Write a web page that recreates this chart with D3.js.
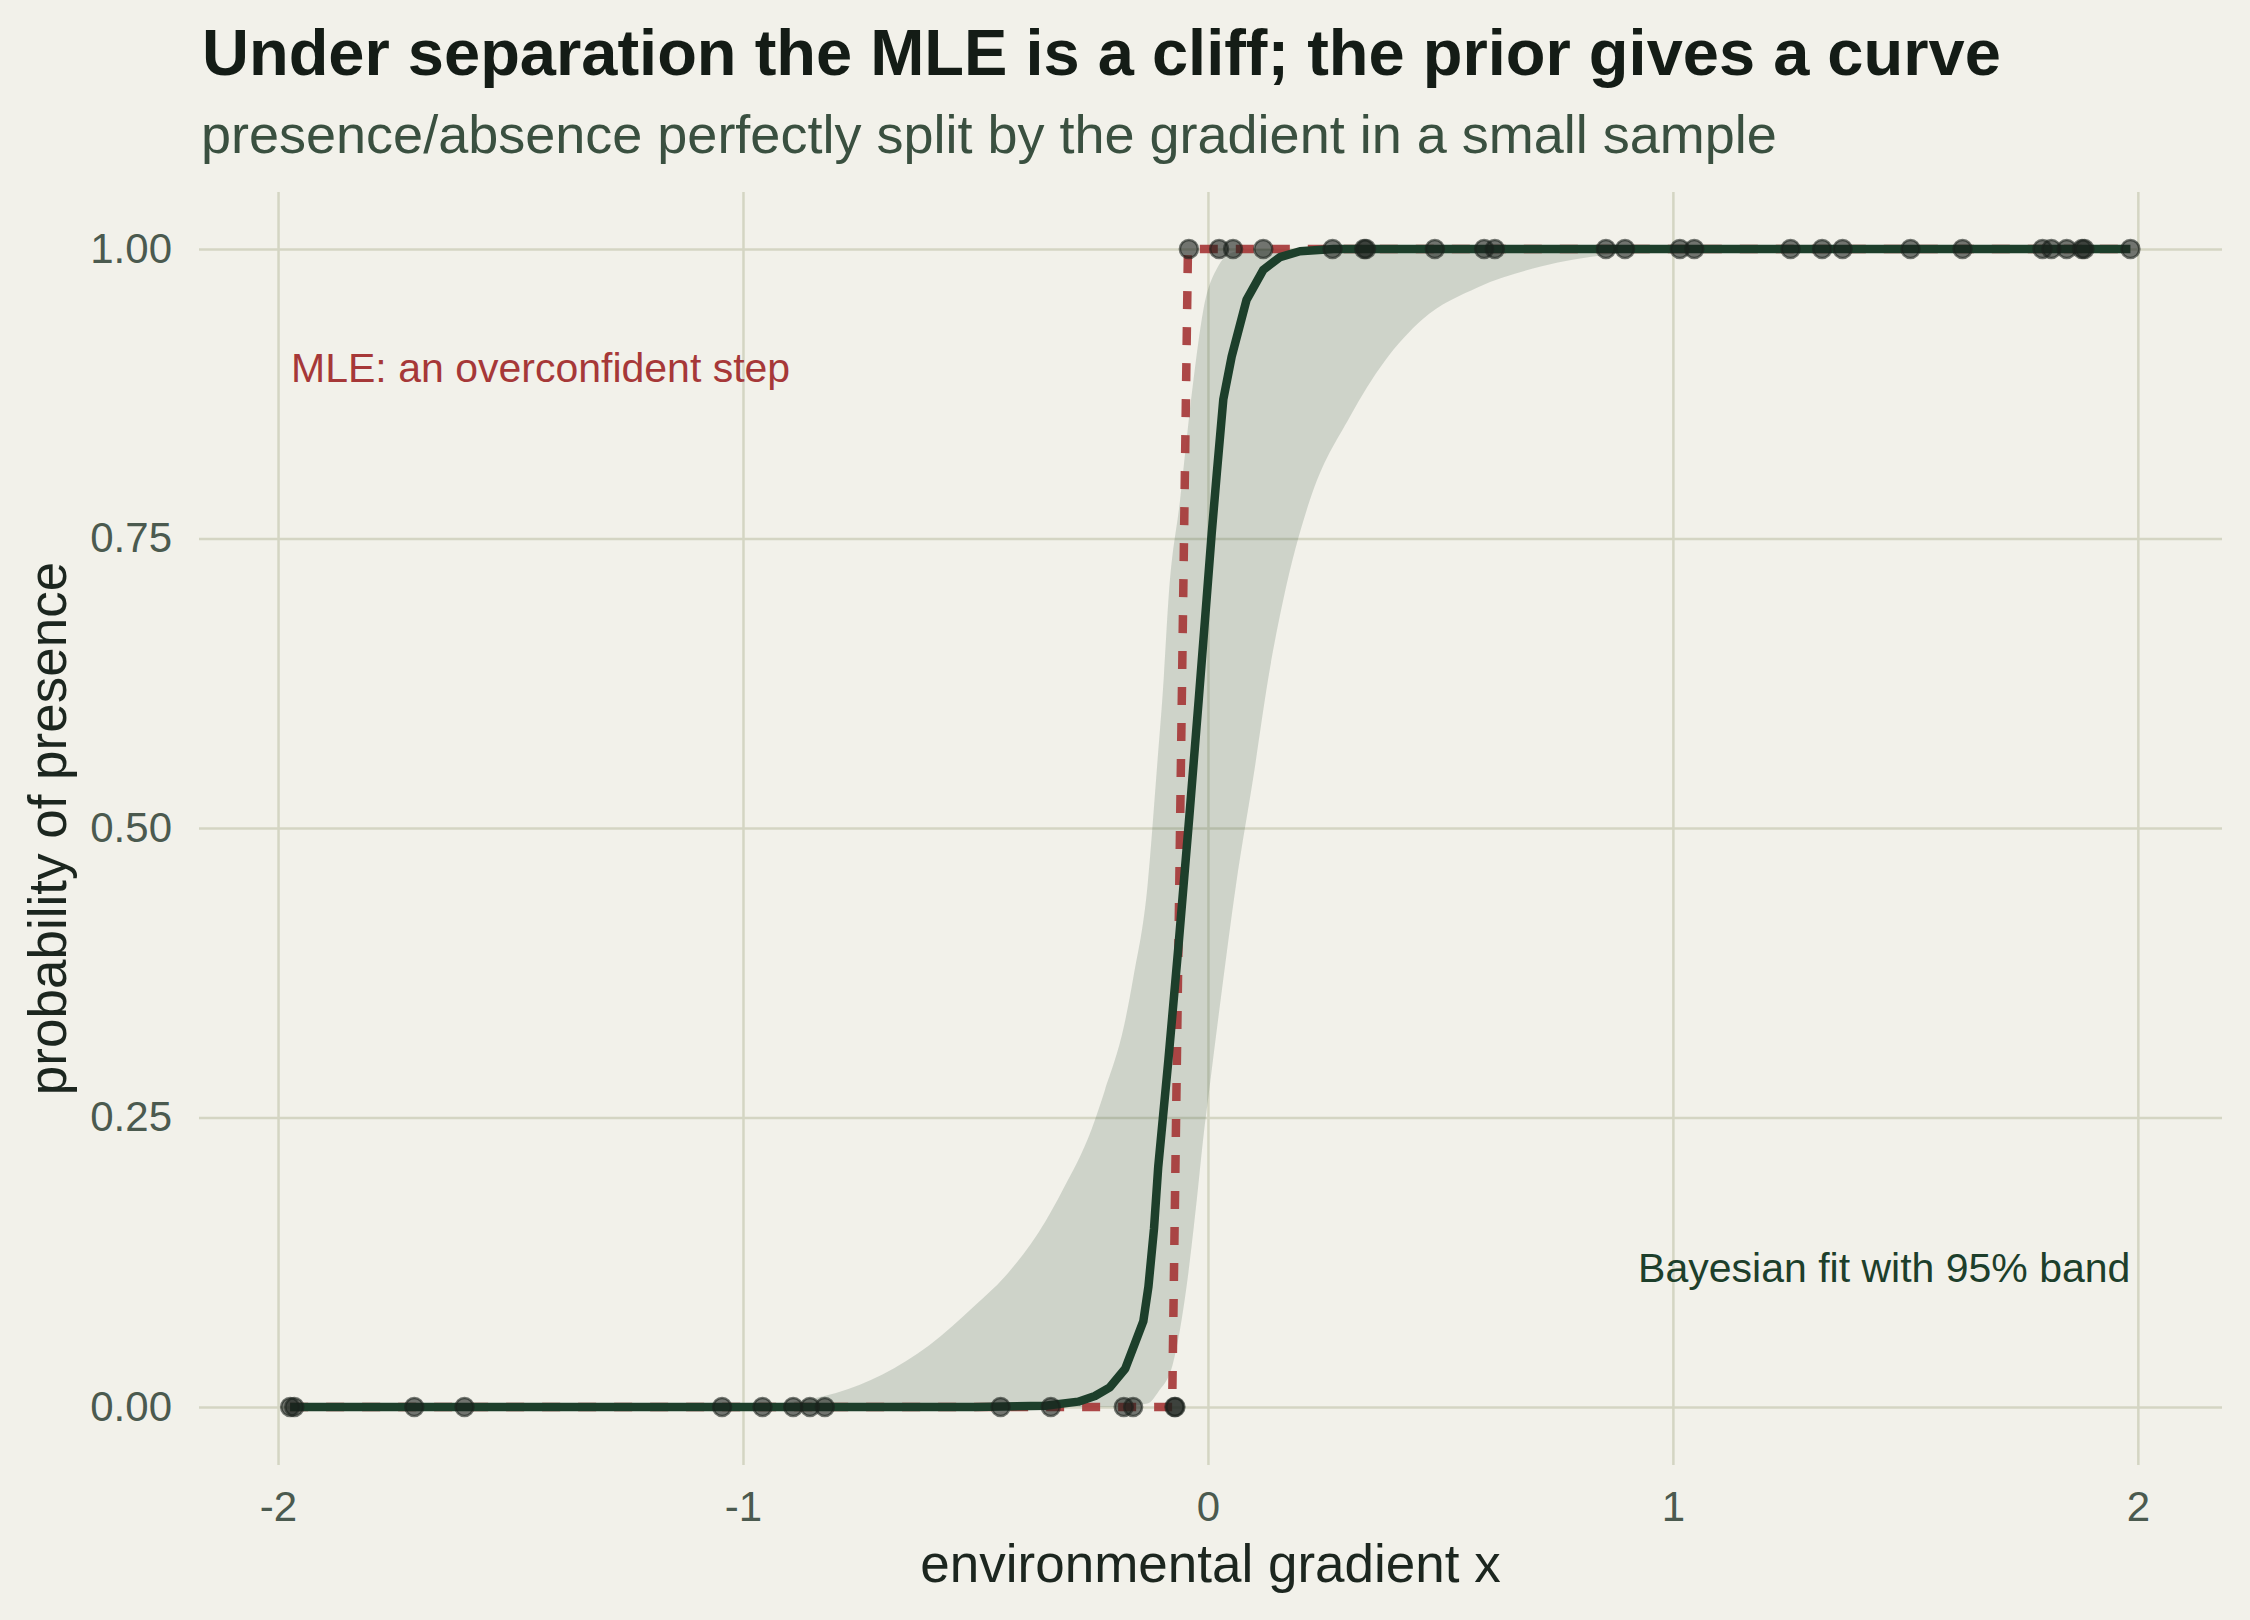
<!DOCTYPE html>
<html>
<head>
<meta charset="utf-8">
<script src="https://cdn.jsdelivr.net/npm/d3@7"></script>
<style>
  body { margin: 0; background: #f2f1ea; }
  text { font-family: "Liberation Sans", Arial, sans-serif; }
</style>
</head>
<body>
<script>
// observed sites: gradient value, presence (0/1)
const absentX = [-1.974, -1.965, -1.707, -1.599, -1.045, -0.958, -0.892, -0.856, -0.824, -0.446, -0.338, -0.181, -0.161, -0.072, -0.070];
const presentX = [-0.041, 0.024, 0.054, 0.119, 0.268, 0.336, 0.340, 0.488, 0.594, 0.617, 0.856, 0.897, 1.015, 1.046,
  1.253, 1.321, 1.365, 1.511, 1.623, 1.795, 1.814, 1.847, 1.880, 1.885, 1.984];

// MLE step
const mleX = [-1.974, -0.077, -0.043, 1.984];
const mleP = [0, 0, 1, 1];

// Bayesian posterior mean curve
const fitX = [-1.974, -0.5, -0.35, -0.279, -0.243, -0.211, -0.178, -0.157, -0.139, -0.128, -0.116, -0.107, -0.085,
  -0.063, -0.04, -0.02, -0.003, 0.008, 0.019, 0.033, 0.051, 0.083, 0.119, 0.155, 0.198, 0.27, 1.984];
const fitP = [0, 0, 0.001, 0.0046, 0.0095, 0.017, 0.033, 0.055, 0.074, 0.104, 0.154, 0.207, 0.30,
  0.40, 0.51, 0.61, 0.697, 0.754, 0.806, 0.870, 0.907, 0.956, 0.982, 0.993, 0.998, 1, 1];

// 95% band, upper and lower edges
const hiX = [-1.974, -1.0, -0.9, -0.8, -0.7, -0.6, -0.5, -0.438, -0.35, -0.314, -0.25, -0.222, -0.18, -0.16, -0.13, -0.11,
  -0.095, -0.085, -0.06, -0.032, -0.01, 0.022, 0.047, 0.09, 1.984];
const hiP = [0, 0.001, 0.004, 0.012, 0.028, 0.053, 0.088, 0.112, 0.16, 0.186, 0.24, 0.273, 0.33, 0.372, 0.45, 0.55,
  0.63, 0.697, 0.783, 0.884, 0.947, 0.985, 0.996, 1, 1];
const loX = [-1.974, -0.2, -0.13, -0.107, -0.075, -0.046, -0.024, -0.009, 0.0, 0.03, 0.06, 0.1, 0.13, 0.162, 0.219, 0.305,
  0.38, 0.461, 0.581, 0.718, 0.856, 0.976, 1.2, 1.984];
const loP = [0, 0, 0.003, 0.013, 0.038, 0.104, 0.179, 0.236, 0.265, 0.36, 0.45, 0.55, 0.63, 0.697, 0.783, 0.855,
  0.903, 0.939, 0.967, 0.985, 0.995, 0.999, 1, 1];

const xTicks = [-2, -1, 0, 1, 2];
const yTicks = [0, 0.25, 0.5, 0.75, 1];

const W = 2250, H = 1620;
const margin = {top: 192, right: 28, bottom: 155, left: 199};
const width = W - margin.left - margin.right;
const height = H - margin.top - margin.bottom;

const svg = d3.select("body").append("svg")
  .attr("width", W)
  .attr("height", H)
  .style("background", "#f2f1ea");

svg.append("text")
  .attr("x", 202).attr("y", 75)
  .attr("font-size", 65).attr("font-weight", "bold")
  .attr("fill", "#141c16")
  .text("Under separation the MLE is a cliff; the prior gives a curve");

svg.append("text")
  .attr("x", 201).attr("y", 153)
  .attr("font-size", 54)
  .attr("fill", "#3a5040")
  .text("presence/absence perfectly split by the gradient in a small sample");

const g = svg.append("g")
  .attr("transform", "translate(" + margin.left + "," + margin.top + ")");

const x = d3.scaleLinear().domain([-2.17, 2.181]).range([0, width]);
const y = d3.scaleLinear().domain([-0.0501, 1.0492]).range([height, 0]);

// grid + tick labels
const gx = g.append("g")
  .attr("transform", "translate(0," + height + ")")
  .call(d3.axisBottom(x).tickValues(xTicks).tickSize(-height).tickPadding(26).tickFormat(d3.format("d")));
const gy = g.append("g")
  .call(d3.axisLeft(y).tickValues(yTicks).tickSize(-width).tickPadding(27).tickFormat(d3.format(".2f")));

[gx, gy].forEach(a => {
  a.select(".domain").remove();
  a.selectAll(".tick line").attr("stroke", "#d4d5c3").attr("stroke-width", 2.5);
  a.selectAll(".tick text").attr("font-size", 42).attr("fill", "#4b5a4f")
    .attr("font-family", "Liberation Sans, Arial, sans-serif");
});
gx.selectAll(".tick text").text(d => d < 0 ? "-" + Math.abs(d) : d);

const line = d3.line().x(d => x(d[0])).y(d => y(d[1]));
const smooth = d3.line().x(d => x(d[0])).y(d => y(d[1])).curve(d3.curveMonotoneX);

// band: upper edge forward, lower edge back
const hiPts = hiX.map((v, i) => [v, hiP[i]]);
const loPts = loX.map((v, i) => [v, loP[i]]).reverse();
g.append("path")
  .attr("d", smooth(hiPts) + "L" + smooth(loPts).slice(1) + "Z")
  .attr("fill", "#1e4029")
  .attr("fill-opacity", 0.17);

// MLE step
g.append("path")
  .datum(mleX.map((v, i) => [v, mleP[i]]))
  .attr("d", line)
  .attr("fill", "none")
  .attr("stroke", "#a63838")
  .attr("stroke-opacity", 0.92)
  .attr("stroke-width", 8.5)
  .attr("stroke-dasharray", "18,18");

// Bayesian fit
g.append("path")
  .datum(fitX.map((v, i) => [v, fitP[i]]))
  .attr("d", line)
  .attr("fill", "none")
  .attr("stroke", "#1d3f2b")
  .attr("stroke-width", 8.5)
  .attr("stroke-linejoin", "round");

// points
const pts = absentX.map(v => [v, 0]).concat(presentX.map(v => [v, 1]));
g.selectAll("circle.pt")
  .data(pts)
  .join("circle")
  .attr("class", "pt")
  .attr("cx", d => x(d[0]))
  .attr("cy", d => y(d[1]))
  .attr("r", 9)
  .attr("fill", "#1b211d")
  .attr("fill-opacity", 0.6)
  .attr("stroke", "#1b211d")
  .attr("stroke-opacity", 0.6)
  .attr("stroke-width", 2.5);

// annotations
g.append("text")
  .attr("x", x(-1.972)).attr("y", y(0.885))
  .attr("font-size", 41)
  .attr("fill", "#a63838")
  .text("MLE: an overconfident step");

g.append("text")
  .attr("x", x(1.984)).attr("y", y(0.108))
  .attr("text-anchor", "end")
  .attr("font-size", 41)
  .attr("fill", "#1d3f2b")
  .text("Bayesian fit with 95% band");

// axis titles
svg.append("text")
  .attr("x", margin.left + width / 2).attr("y", 1582)
  .attr("text-anchor", "middle")
  .attr("font-size", 53)
  .attr("fill", "#1c261f")
  .text("environmental gradient x");

svg.append("text")
  .attr("transform", "translate(66," + (margin.top + height / 2) + ") rotate(-90)")
  .attr("text-anchor", "middle")
  .attr("font-size", 53)
  .attr("fill", "#1c261f")
  .text("probability of presence");
</script>
</body>
</html>
